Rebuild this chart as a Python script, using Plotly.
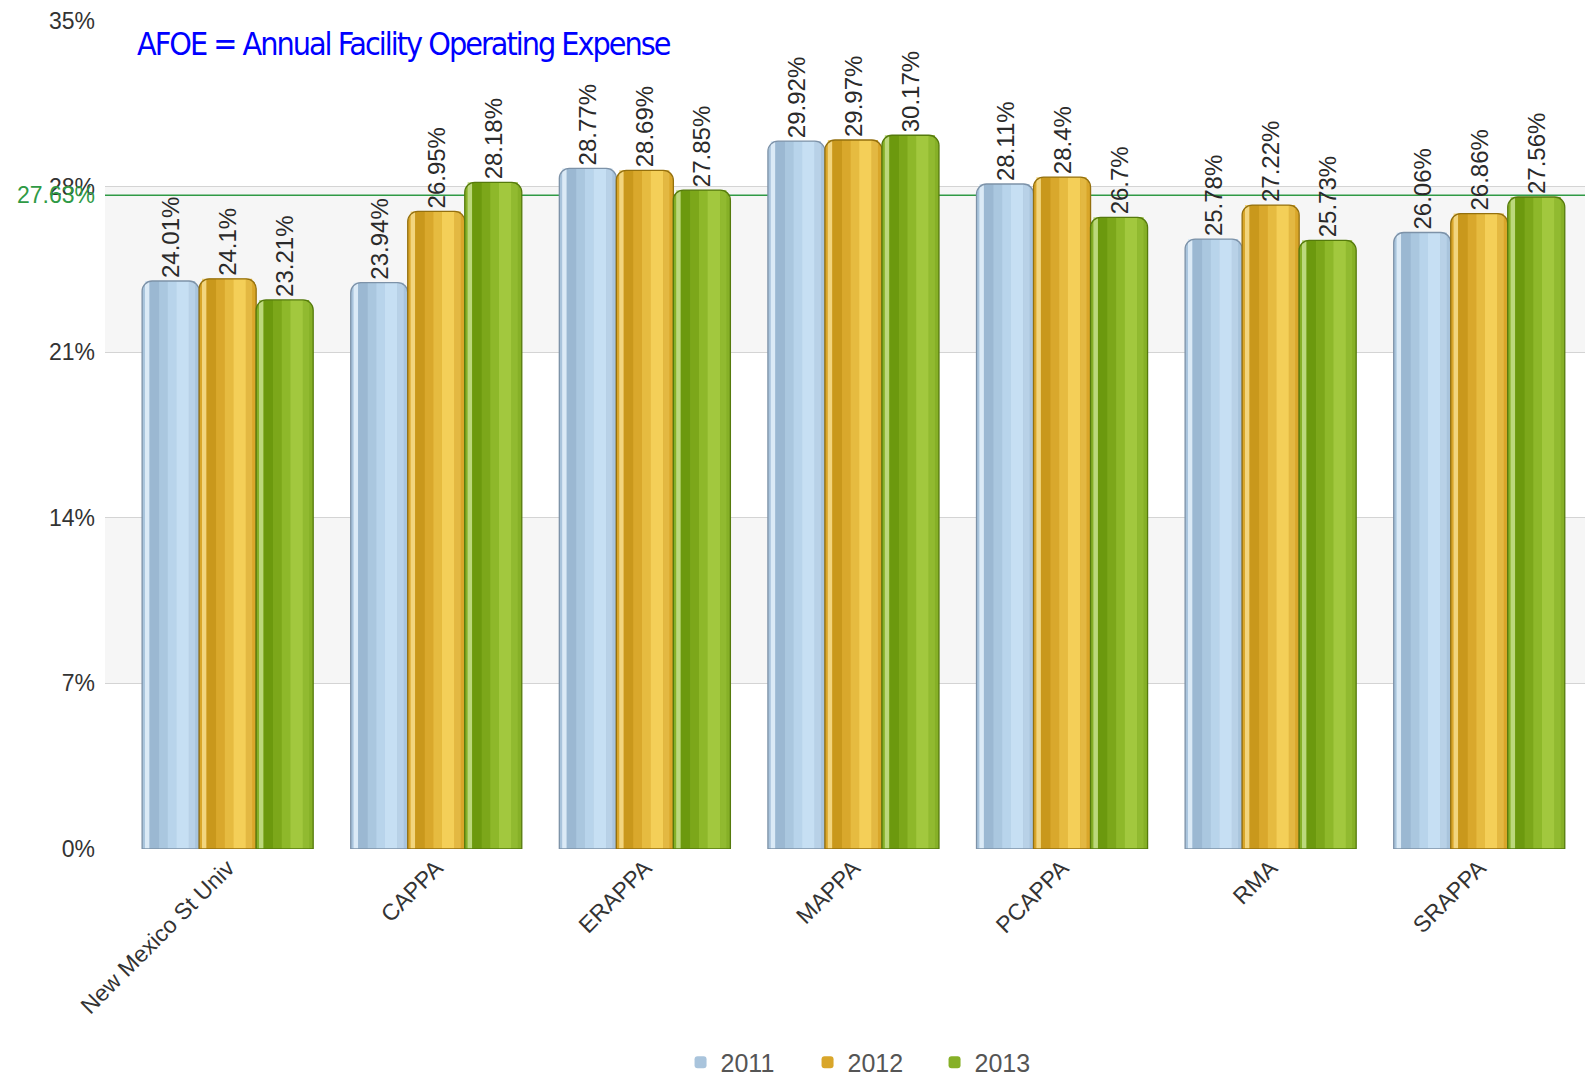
import plotly.graph_objects as go

categories = ["New Mexico St Univ", "CAPPA", "ERAPPA", "MAPPA", "PCAPPA", "RMA", "SRAPPA"]
years = ["2011", "2012", "2013"]
values_2011 = [24.01, 23.94, 28.77, 29.92, 28.11, 25.78, 26.06]
values_2012 = [24.1, 26.95, 28.69, 29.97, 28.4, 27.22, 26.86]
values_2013 = [23.21, 28.18, 27.85, 30.17, 26.7, 25.73, 27.56]
average_value = 27.63
y_ticks = [0, 7, 14, 21, 28, 35]
y_tick_labels = ["0%", "7%", "14%", "21%", "28%", "35%"]

series = [values_2011, values_2012, values_2013]

# styles: base colour, outline, and vertical shading stripes (fraction start, end, colour)
base_colors = ["#a9c4dc", "#d9a62a", "#86b027"]
outline_colors = ["#7d92a8", "#94700e", "#557a0c"]
stripe_styles = [
    [(0.05, 0.13, "#dbeaf6"), (0.13, 0.30, "#9bb8d2"), (0.30, 0.45, "#aac7df"),
     (0.45, 0.60, "#b8d4eb"), (0.60, 0.82, "#c6dff3"), (0.82, 0.93, "#b8d1e7")],
    [(0.05, 0.13, "#f2d57e"), (0.13, 0.30, "#c9981c"), (0.30, 0.45, "#d9a82c"),
     (0.45, 0.60, "#e6bb40"), (0.60, 0.82, "#f4cf58"), (0.82, 0.93, "#e3b842")],
    [(0.05, 0.13, "#bcd87c"), (0.13, 0.30, "#6c990e"), (0.30, 0.45, "#7ca71a"),
     (0.45, 0.60, "#8eb82a"), (0.60, 0.82, "#a2c83e"), (0.82, 0.93, "#91ba30")],
]

FONT = "Arial, Liberation Sans, sans-serif"
GROUP = 0.82
BW = GROUP / 3
RADIUS = 10

fig = go.Figure()
for i, (name, vals) in enumerate(zip(years, series)):
    off = -GROUP / 2 + i * BW
    # base bar with labels
    fig.add_trace(go.Bar(
        name=name, x=categories, y=vals,
        offset=off, width=BW,
        marker=dict(color=base_colors[i], line=dict(width=0), cornerradius=RADIUS),
        text=[f"{v:g}%" for v in vals],
        textposition="outside", textangle=-90, constraintext="none",
        textfont=dict(family=FONT, size=24, color="#2a2a2a"),
        cliponaxis=False, hoverinfo="skip",
    ))
    # shading stripes
    for f0, f1, col in stripe_styles[i]:
        fig.add_trace(go.Bar(
            x=categories, y=vals, offset=off + f0 * BW, width=(f1 - f0) * BW,
            marker=dict(color=col, line=dict(width=0)),
            showlegend=False, hoverinfo="skip",
        ))
    # outline on top
    fig.add_trace(go.Bar(
        x=categories, y=vals, offset=off, width=BW,
        marker=dict(color="rgba(0,0,0,0)", line=dict(color=outline_colors[i], width=1.3),
                    cornerradius=RADIUS),
        showlegend=False, hoverinfo="skip",
    ))

# alternating background bands
for y0, y1 in [(7, 14), (21, 28)]:
    fig.add_shape(type="rect", xref="paper", x0=0, x1=1, yref="y", y0=y0, y1=y1,
                  fillcolor="#f6f6f6", line=dict(width=0), layer="below")

# average line
fig.add_shape(type="line", xref="paper", x0=0, x1=1, yref="y", y0=average_value, y1=average_value,
              line=dict(color="#2f9a45", width=1.5), layer="between")
fig.add_annotation(xref="paper", x=0, xanchor="right", xshift=-8, yref="y", y=average_value,
                   yanchor="middle", text=f"{average_value}%", showarrow=False,
                   font=dict(family=FONT, size=23, color="#2f9a45"))

fig.add_annotation(xref="paper", x=0.0, xanchor="left", xshift=30, yref="paper", y=1.0,
                   yanchor="top", yshift=-2,
                   text="<span style='letter-spacing:-2px'>AFOE = Annual Facility Operating Expense</span>",
                   showarrow=False,
                   font=dict(family="DejaVu Sans Condensed, DejaVu Sans, sans-serif",
                             size=32, color="#0000ff"))

fig.update_layout(
    width=1577, height=1075,
    margin=dict(l=97, r=0, t=11, b=234),
    paper_bgcolor="white", plot_bgcolor="white",
    barmode="overlay",
    font=dict(family=FONT, size=23, color="#333333"),
    showlegend=True,
    legend=dict(orientation="h", xanchor="center", x=0.5176, yref="container", y=0.019,
                yanchor="middle", font=dict(family=FONT, size=25, color="#555555"),
                entrywidth=82, entrywidthmode="pixels"),
    xaxis=dict(range=[-0.588, 6.507], tickangle=-45, showgrid=False, showline=False,
               ticks="", tickfont=dict(family=FONT, size=23, color="#333333")),
    yaxis=dict(range=[0, 35], tickvals=y_ticks, ticktext=y_tick_labels, showgrid=True,
               gridcolor="#d4d4d4", gridwidth=1, zeroline=False, showline=False,
               ticks="", ticklabelstandoff=9, ticklabeloverflow="allow",
               tickfont=dict(family=FONT, size=23, color="#333333")),
)

fig.write_html("out.html")
